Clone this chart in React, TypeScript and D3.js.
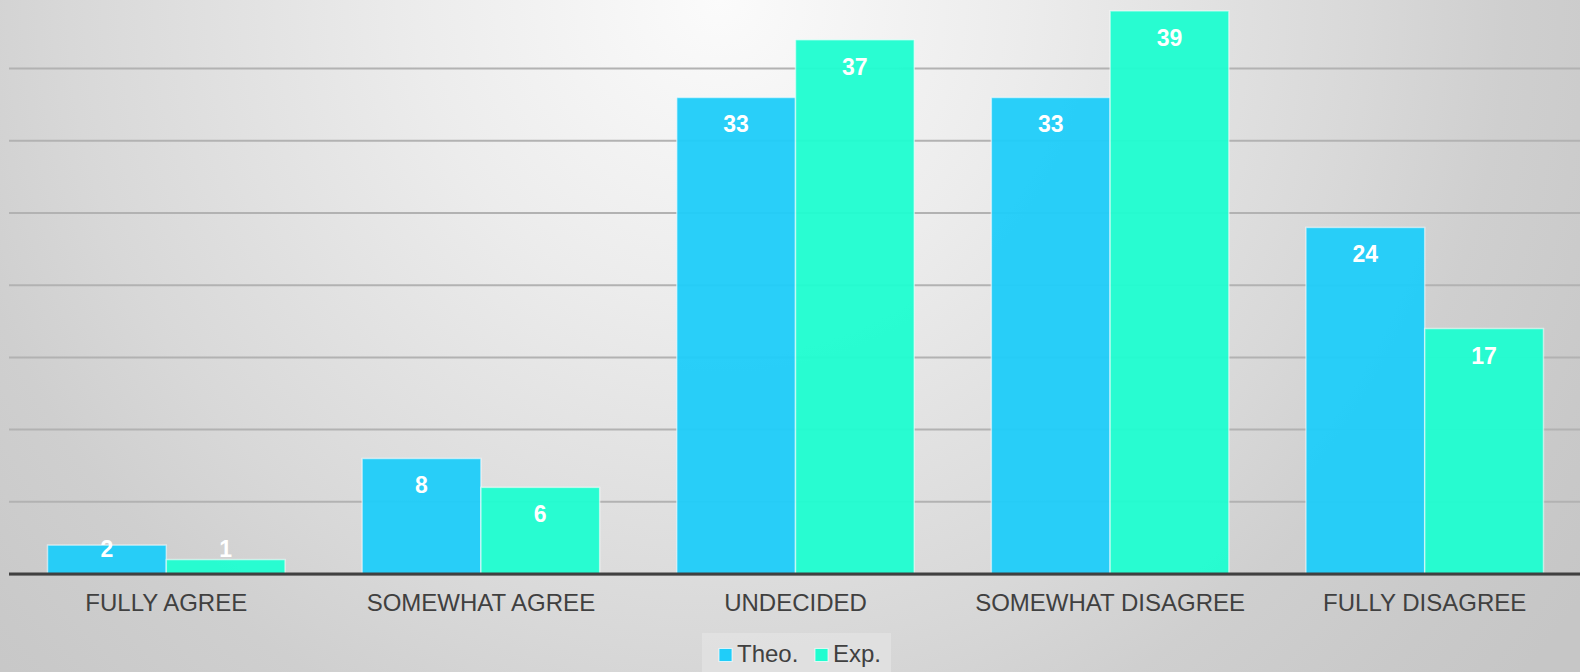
import React from "react";
import * as d3 from "d3";

const categories = ["FULLY AGREE", "SOMEWHAT AGREE", "UNDECIDED", "SOMEWHAT DISAGREE", "FULLY DISAGREE"];
const seriesNames = ["Theo.", "Exp."];
const theoValues = [2, 8, 33, 33, 24];
const expValues = [1, 6, 37, 39, 17];
const gridTicks = [5, 10, 15, 20, 25, 30, 35];
const seriesColors = ["#20CDF9", "#20FDD0"];

const W = 1580;
const H = 672;
const plotLeft = 9;
const plotRight = 1582;
const baseY = 574;

export default function App() {
  const x0 = d3.scaleBand<string>().domain(categories).range([plotLeft, plotRight]).paddingInner(0.245).paddingOuter(0.1225);
  const x1 = d3.scaleBand<string>().domain(seriesNames).range([0, x0.bandwidth()]).padding(0);
  const y = d3.scaleLinear().domain([0, 5]).range([baseY, baseY - 72.2]);
  const series = [theoValues, expValues];
  const textColor = "#404040";
  const font = "'Liberation Sans', Arial, sans-serif";

  return (
    <svg width={W} height={H} style={{ position: "absolute", left: 0, top: 0, display: "block" }} fontFamily={font}>
      <defs>
        <radialGradient id="bg" cx={720} cy={0} r={1050} gradientUnits="userSpaceOnUse">
          <stop offset="0" stopColor="#fbfbfb" />
          <stop offset="0.29" stopColor="#ececec" />
          <stop offset="0.62" stopColor="#d8d8d8" />
          <stop offset="0.75" stopColor="#cfcfcf" />
          <stop offset="0.9" stopColor="#c9c9c9" />
          <stop offset="1" stopColor="#c6c6c6" />
        </radialGradient>
      </defs>
      <rect x={0} y={0} width={W} height={H} fill="url(#bg)" />
      {gridTicks.map((t) => (
        <line key={t} x1={plotLeft} x2={W} y1={y(t)} y2={y(t)} stroke="#b2b2b2" strokeWidth={2} />
      ))}
      {categories.map((c, i) => (
        <g key={c} transform={`translate(${x0(c)},0)`}>
          {seriesNames.map((s, j) => {
            const v = series[j][i];
            const top = y(v);
            const bx = x1(s) as number;
            const bw = x1.bandwidth();
            const ly = Math.min(top + 35, baseY - 17);
            return (
              <g key={s}>
                <rect x={bx} y={top} width={bw} height={baseY - top} fill={seriesColors[j]} fillOpacity={0.96} stroke="rgba(255,255,255,0.55)" strokeWidth={1.5} />
                <text x={bx + bw / 2} y={ly} textAnchor="middle" fill="#ffffff" fontWeight="bold" fontSize={23}>{v}</text>
              </g>
            );
          })}
          <text x={x0.bandwidth() / 2} y={611} textAnchor="middle" fill={textColor} fontSize={24}>{c}</text>
        </g>
      ))}
      <line x1={plotLeft} x2={W} y1={baseY + 1.5} y2={baseY + 1.5} stroke="#b0b0b0" strokeWidth={1} />
      <line x1={plotLeft} x2={W} y1={baseY} y2={baseY} stroke="#404040" strokeWidth={3} />
      <g>
        <rect x={702} y={633} width={189} height={45} fill="#e4e4e4" fillOpacity={0.7} />
        {seriesNames.map((s, j) => {
          const lx = j === 0 ? 719 : 815;
          return (
            <g key={s}>
              <rect x={lx} y={648.5} width={13} height={13} fill={seriesColors[j]} stroke="rgba(255,255,255,0.7)" strokeWidth={1} />
              <text x={lx + 18} y={661.5} fill={textColor} fontSize={24}>{s}</text>
            </g>
          );
        })}
      </g>
    </svg>
  );
}
